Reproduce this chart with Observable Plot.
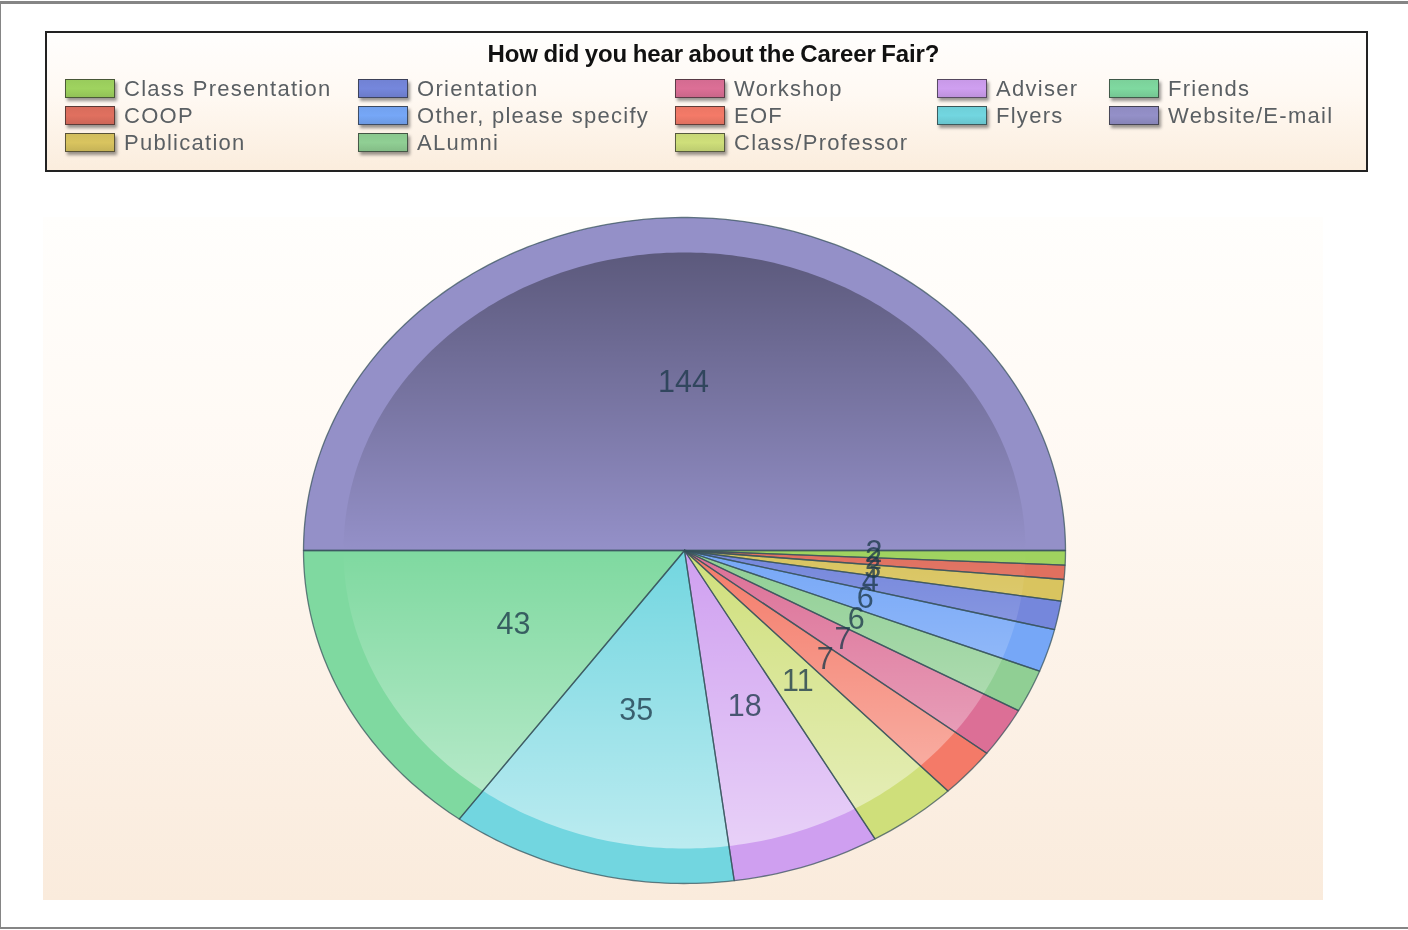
<!DOCTYPE html>
<html>
<head>
<meta charset="utf-8">
<script src="https://cdn.jsdelivr.net/npm/d3@7"></script>
<script src="https://cdn.jsdelivr.net/npm/@observablehq/plot@0.6"></script>
<style>
html,body{margin:0;padding:0;background:#fff;overflow:hidden}
#page{position:relative;width:1408px;height:930px;box-sizing:border-box;font-family:"Liberation Sans",Arial,sans-serif;filter:blur(.45px)}
#frame{position:absolute;left:0;top:1px;width:1408px;height:928px;box-sizing:border-box;border-top:3px solid #858585;border-left:1px solid #858585;border-bottom:2px solid #858585}
#legend{position:absolute;left:45px;top:31px;width:1323px;height:141px;box-sizing:border-box;border:2px solid #222;background:linear-gradient(#fffefd 0%,#fff9f3 45%,#fbeddd 100%)}
#title{position:absolute;left:14px;right:0;top:7px;text-align:center;font-size:24px;font-weight:bold;color:#111;letter-spacing:-.1px;word-spacing:-1px}
.sw{position:absolute;width:50px;height:19px;box-sizing:border-box;border:1px solid rgba(40,40,40,.7);box-shadow:2px 3px 3px rgba(0,0,0,.4)}
.lb{position:absolute;font-size:22px;line-height:26px;color:#5a5f63;letter-spacing:1.27px;white-space:nowrap}
#chart{position:absolute;left:43px;top:217px;width:1280px;height:683px}
#chart svg{display:block;background:linear-gradient(#fffefc 0%,#fffaf5 30%,#faebdc 100%)}
</style>
</head>
<body>
<div id="page">
  <div id="frame"></div>
  <div id="legend"><div id="title"></div></div>
  <div id="chart"></div>
</div>
<script>
const chartTitle = "How did you hear about the Career Fair?";
const categories = ["Class Presentation","COOP","Publication","Orientation","Other, please specify","ALumni","Workshop","EOF","Class/Professor","Adviser","Flyers","Friends","Website/E-mail"];
const counts = [2,2,3,4,6,6,7,7,11,18,35,43,144];
const colors = ["#9fd35f","#e0705f","#d9c45f","#7587dc","#76a7f7","#90cf94","#dc6f96","#f47a68","#cfdf7a","#cf9ff0","#72d6e0","#7fd9a0","#9490c8"];
const legendColumns = [3,3,3,2,2];

// legend
d3.select("#title").text(chartTitle);
const colX = [18,311,628,890,1062], rowY = [46,73,100];
{
  let k = 0;
  const lg = d3.select("#legend");
  legendColumns.forEach((n,c) => {
    for (let r = 0; r < n; r++, k++) {
      lg.append("div").attr("class","sw").style("left",colX[c]+"px").style("top",rowY[r]+"px")
        .style("background",`linear-gradient(${d3.color(colors[k]).darker(.1)},${colors[k]} 50%,${d3.color(colors[k]).darker(.25)})`);
      lg.append("div").attr("class","lb").style("left",(colX[c]+59)+"px").style("top",(rowY[r]-3)+"px").text(categories[k]);
    }
  });
}

// pie geometry from the values
const arcs = d3.pie().sort(null).value(d => d).startAngle(Math.PI/2).endAngle(Math.PI*2.5)(counts);
const pt = (a,r) => ({x: Math.sin(a)*r, y: -Math.cos(a)*r});
const wedgePts = [];
arcs.forEach((s,i) => {
  const n = Math.max(4, Math.ceil((s.endAngle-s.startAngle)*60));
  wedgePts.push({name:categories[i], ...pt(0,0)});
  for (let j = 0; j <= n; j++) wedgePts.push({name:categories[i], ...pt(s.startAngle+(s.endAngle-s.startAngle)*j/n,1)});
  wedgePts.push({name:categories[i], ...pt(0,0)});
});
const innerPts = d3.range(0,361,1).map(d => pt(d*Math.PI/180,0.895));
const labels = arcs.map((s,i) => ({value:counts[i], ...pt((s.startAngle+s.endAngle)/2,0.5)}));

const defs = () => {
  const d = d3.create("svg:defs");
  const g = d.append("linearGradient").attr("id","shade").attr("x1",0).attr("y1",0).attr("x2",0).attr("y2",1);
  [[0,"#000",.38],[.5,"#000",0],[.5,"#fff",0],[1,"#fff",.52]].forEach(([o,c,a]) =>
    g.append("stop").attr("offset",o).attr("stop-color",c).attr("stop-opacity",a));
  return d.node();
};

const plot = Plot.plot({
  width:1280, height:683,
  marginLeft:260, marginRight:258, marginTop:0, marginBottom:17,
  style:{background:"none",overflow:"visible"},
  x:{domain:[-1,1],axis:null},
  y:{domain:[-1,1],reverse:true,axis:null},
  color:{domain:categories,range:colors},
  marks:[
    defs,
    Plot.line(wedgePts,{x:"x",y:"y",z:"name",fill:"name",stroke:"none"}),
    Plot.line(innerPts,{x:"x",y:"y",fill:"url(#shade)",stroke:"none"}),
    Plot.line(wedgePts,{x:"x",y:"y",z:"name",stroke:"#34505a",strokeOpacity:.72,strokeWidth:1.3}),
    Plot.text(labels,{x:"x",y:"y",dx:-1,dy:-2,text:d => String(d.value),fontSize:30.5,fontFamily:"Liberation Sans, Arial, sans-serif",fill:"#1d3a4c",fillOpacity:.78,stroke:"none"})
  ]
});
plot.style.background = "";
document.getElementById("chart").appendChild(plot);
</script>
</body>
</html>
